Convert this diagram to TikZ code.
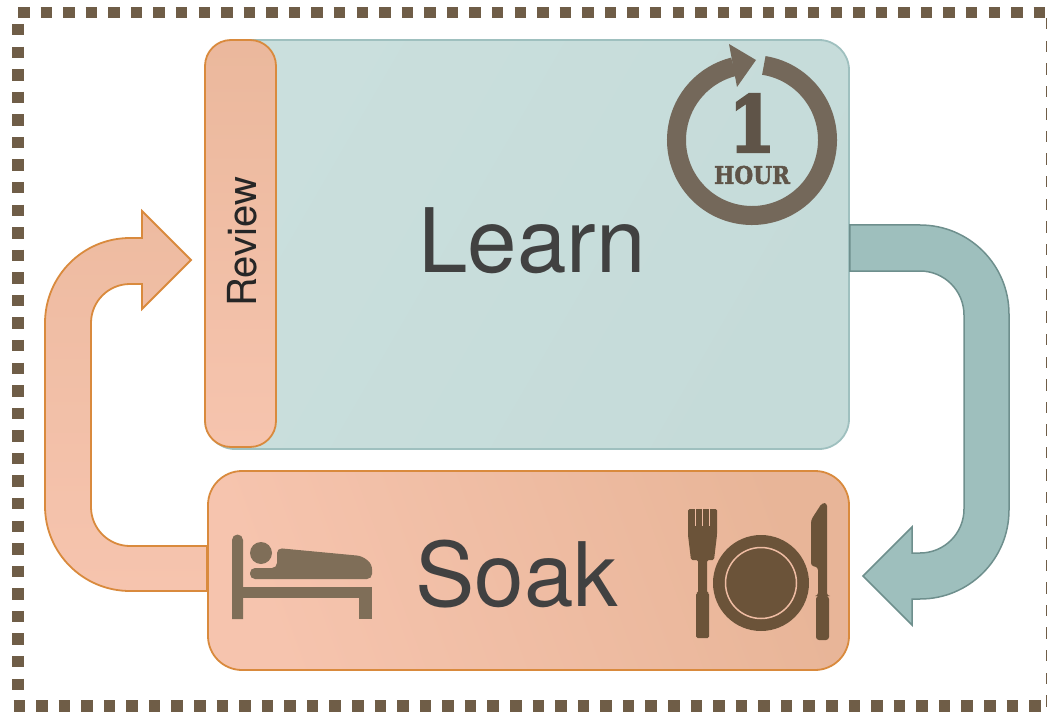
\documentclass[tikz,border=0pt]{standalone}
\usepackage{fontspec}
\usepackage{graphicx}
\setmainfont{TeX Gyre Heros}
\newfontfamily\slabfont{DejaVu Serif Bold}[FakeBold=2]
\newfontfamily\heavyfont{DejaVu Serif Bold}[FakeBold=4]
\definecolor{SoakLight}{HTML}{F6C4AE}
\definecolor{SoakDark}{HTML}{E8B598}
\definecolor{SoakLine}{HTML}{D98A3D}
\definecolor{LearnFill}{HTML}{CADFDD}
\definecolor{LearnDark}{HTML}{C5DBD9}
\definecolor{LearnLine}{HTML}{9FC0BF}
\definecolor{BackArrow}{HTML}{9EBFBD}
\definecolor{BackLine}{HTML}{6E8F8D}
\definecolor{ClockBrown}{HTML}{74685A}
\definecolor{DigitBrown}{HTML}{5F5448}
\definecolor{BedBrown}{HTML}{7F6E58}
\definecolor{DishBrown}{HTML}{6B5339}
\definecolor{BorderBrown}{HTML}{6F5D47}
\definecolor{WordGrey}{HTML}{414141}
\tikzset{
  soakbox/.style={draw=SoakLine, line width=1.8pt, left color=SoakLight, right color=SoakDark, inner sep=0pt},
  word/.style={text=WordGrey, inner sep=0pt},
  dots/.style={BorderBrown, line width=11.5pt, dash pattern=on 11.5pt off 11.07pt}
}
\begin{document}
\begin{tikzpicture}[x=1pt,y=1pt,yscale=-1]
  \useasboundingbox (0,0) rectangle (1047,714);
  % dotted frame
  \foreach \sx/\sy/\ex/\ey in {18/12.5/1049/12.5, 18/24/18/700, 13.5/706/1049/706, 1052/18/1052/712}
    \draw[dots] (\sx,\sy) -- (\ex,\ey);
  % boxes
  \node[draw=LearnLine, line width=1.8pt, left color=LearnFill, right color=LearnDark, shading angle=60,
    rounded corners=30pt, minimum width=644pt, minimum height=409pt, inner sep=0pt] (learn) at (527,244.5) {};
  \node[soakbox, top color=SoakDark!80!SoakLight, bottom color=SoakLight, rounded corners=26pt, minimum width=71pt,
    minimum height=407pt] (review) at (240.5,243.5) {};
  \node[soakbox, shading angle=110, rounded corners=34pt, minimum width=641pt, minimum height=199pt] (soak) at (528.5,570.5) {};
  % thick arrows
  \draw[BackLine, fill=BackArrow, line width=1.5pt] (learn.east |- 0,225) -- (920,225) arc (-90:0:89) -- (1009,510)
    arc (0:90:89) -- (912,599) -- (912,625) -- (863,576) -- (912,527) -- (912,553) -- (920,553)
    arc (90:0:44) -- (964,315) arc (0:-90:44) -- (learn.east |- 0,271) -- cycle;
  \draw[SoakLine, top color=SoakDark!60!SoakLight, bottom color=SoakLight, line width=1.8pt] (soak.west |- 0,546) -- (130,546) arc (90:180:39) -- (91,323)
    arc (180:270:39) -- (142,284) -- (142,309) -- (191,260) -- (142,211) -- (142,238) -- (130,238)
    arc (270:180:85) -- (45,506) arc (180:90:85) -- (soak.west |- 0,591) -- cycle;
  % labels
  \node[word, font=\fontsize{89}{89}\selectfont] (learnlabel) at (532,241) {Learn};
  \node[word, rotate=90, text=black!85, font=\fontsize{40}{40}\selectfont] (reviewlabel) at (242,242) {Review};
  \node[word, font=\fontsize{89}{89}\selectfont] (soaklabel) at (517,574) {Soak};
  % one hour clock
  \draw[ClockBrown, line width=19pt] (752,140) ++(-81:75.5) arc (-81:256:75.5);
  \fill[ClockBrown] (729,44) -- (756,60) -- (737,87) -- cycle;
  \node[DigitBrown, inner sep=0pt] (digit) at (752,123) {\resizebox{46pt}{57pt}{\heavyfont 1}};
  \node[DigitBrown, inner sep=0pt] (hour) at (752,175) {\resizebox{76pt}{18pt}{\slabfont HOUR}};
  % bed
  \fill[BedBrown] (232,616) -- (232,540) arc (180:360:5.5) -- (243,616) -- (243,619) -- (232,619) -- cycle;
  \fill[BedBrown] (243,587) rectangle (372,598);
  \fill[BedBrown] (359,598) rectangle (372,619);
  \fill[BedBrown] (261,553) circle (11);
  \fill[BedBrown, rounded corners=5pt] (277,568) -- (277,548) -- (362,556) -- (372,564) -- (372,579) -- (250,579) -- (250,568) -- cycle;
  % fork
  \fill[DishBrown, rounded corners=1.5pt] (688,509) -- (688,535) -- (691,560) -- (698,560) -- (698,593) -- (696,593)
    -- (696,638) -- (709,638) -- (709,593) -- (707,593) -- (707,560) -- (714,560) -- (717,535) -- (717,509) -- cycle;
  \foreach \tx in {695.3,702.5,709.7}
    \draw[SoakLight!50!SoakDark, line width=1.4pt] (\tx,507) -- (\tx,526);
  % plate
  \fill[DishBrown] (761,583) circle (48);
  \draw[SoakLight!50!SoakDark, line width=1.5pt] (761,583) circle (35.5);
  % knife
  \fill[DishBrown, rounded corners=3pt] (827,503) -- (822,503) -- (811,520) -- (811,566) -- (818,567) -- (818,596)
    -- (816,596) -- (816,640) -- (829,640) -- (829,596) -- (827,596) -- cycle;
\end{tikzpicture}
\end{document}
